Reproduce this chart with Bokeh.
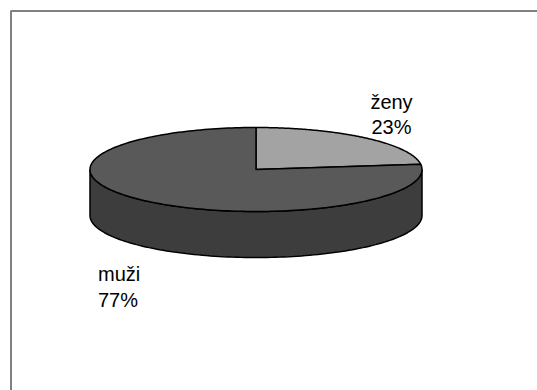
import numpy as np
from bokeh.plotting import figure
from bokeh.models import Range1d
from bokeh.core.properties import value
from bokeh.embed import file_html
from bokeh.resources import INLINE

categories = ["ženy", "muži"]
shares = [23, 77]
percent_labels = ["23%", "77%"]

W, H = 537, 390
p = figure(width=W, height=H, output_backend="svg", toolbar_location=None,
           x_range=Range1d(0, W), y_range=Range1d(H, 0), min_border=0)
p.axis.visible = False
p.grid.visible = False
p.outline_line_color = None
p.background_fill_color = "white"
p.border_fill_color = "white"

# chart area frame
p.quad(left=10.5, right=W + 5, top=10.5, bottom=H + 5, fill_color=None,
       line_color="#808080", line_width=2)

cx, cy, rx, ry, depth = 255.5, 169.0, 166.0, 42.0, 46.0

def pt(theta, dy=0.0):
    return cx + rx * np.sin(theta), cy - ry * np.cos(theta) + dy

fracs = np.array(shares, dtype=float) / sum(shares)
starts = np.concatenate([[0], np.cumsum(fracs)[:-1]]) * 2 * np.pi
ends = np.cumsum(fracs) * 2 * np.pi

top_colors = ["#a3a3a3", "#595959"]
side_colors = ["#7a7a7a", "#3d3d3d"]

# side walls (front half, visible from pi/2 to 3pi/2)
for s, e, col in zip(starts, ends, side_colors):
    a = max(s, np.pi / 2)
    b = min(e, 3 * np.pi / 2)
    if b <= a:
        continue
    t = np.linspace(a, b, 120)
    xt, yt = pt(t)
    xb, yb = pt(t[::-1], depth)
    p.patch(np.concatenate([xt, xb]), np.concatenate([yt, yb]),
            fill_color=col, line_color="black", line_width=1.5)

# top slices
for s, e, col in zip(starts, ends, top_colors):
    t = np.linspace(s, e, 200)
    xs, ys = pt(t)
    p.patch(np.concatenate([[cx], xs]), np.concatenate([[cy], ys]),
            fill_color=col, line_color="black", line_width=1.5, line_join="round")

font = value("Liberation Sans")
# labels
p.text(x=[391, 391], y=[101, 126], text=[categories[0], percent_labels[0]],
       text_font=font, text_font_size="20px", text_align="center",
       text_baseline="alphabetic", text_color="black")
p.text(x=[97.5, 97.5], y=[273, 299], text=[categories[1], percent_labels[1]],
       text_font=font, text_font_size="20px", text_align="left",
       text_baseline="alphabetic", text_color="black")

open("out.html", "w").write(file_html(p, INLINE))
